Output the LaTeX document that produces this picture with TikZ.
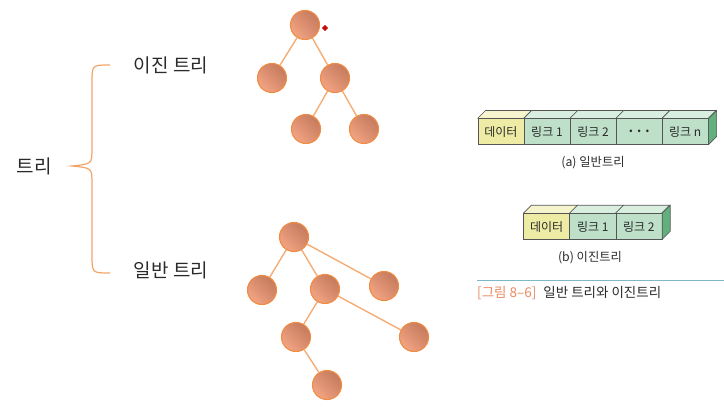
\documentclass[tikz,border=0pt]{standalone}
\usepackage{fontspec}
\setmainfont{Noto Sans CJK KR}
\usetikzlibrary{shapes.geometric}
\definecolor{txt}{HTML}{2A2A2A}
\definecolor{braceC}{HTML}{F2A468}
\definecolor{nodeRim}{HTML}{F08C44}
\definecolor{nodeLight}{HTML}{F2A482}
\definecolor{nodeDark}{HTML}{C57A5E}
\definecolor{edgeC}{HTML}{F5AC74}
\definecolor{dataF}{HTML}{EEEBA4}
\definecolor{dataT}{HTML}{F6F4CC}
\definecolor{linkF}{HTML}{BEE0C9}
\definecolor{linkT}{HTML}{D8EEDF}
\definecolor{sideC}{HTML}{62B07E}
\definecolor{boxLine}{HTML}{555555}
\definecolor{ruleC}{HTML}{7DB9C9}
\definecolor{capO}{HTML}{EA8A62}
\definecolor{mark}{HTML}{C01010}
\tikzset{
  tnode/.style={circle, minimum size=29pt, inner sep=0pt, draw=nodeRim, line width=1.1pt,
    top color=nodeDark, bottom color=nodeLight, shading angle=-45},
  tedge/.style={draw=edgeC, line width=1.4pt},
  big/.style={font=\fontsize{19}{22}\selectfont, text=txt},
  cell/.style={rectangle, draw=boxLine, line width=0.6pt, minimum width=46.1pt, minimum height=26pt,
    inner sep=0pt, anchor=north west, font=\fontsize{12}{14}\selectfont, text=txt},
  datacell/.style={cell, fill=dataF},
  linkcell/.style={cell, fill=linkF},
  topface/.style={draw=boxLine, line width=0.6pt},
  small/.style={font=\fontsize{12.3}{14}\selectfont, text=txt},
}
\begin{document}
\begin{tikzpicture}[x=1pt, y=-1pt]
\useasboundingbox (0,0) rectangle (724,417);

% classification labels and brace
\node[big] (tree) at (34,166) {트리};
\node[big] (bin) at (171,65) {이진 트리};
\node[big] (gen) at (171,270) {일반 트리};
\coordinate (bTop) at (110,65);
\coordinate (bTip) at (72,166);
\coordinate (bBot) at (110,273);
\draw[braceC, line width=1.2pt]
  (bTop) .. controls (92,65) .. (92,83) -- (92,148)
  .. controls (92,164) .. (bTip)
  .. controls (92,168) .. (92,184) -- (92,255)
  .. controls (92,273) .. (bBot);

% binary tree
\node[tnode] (b0) at (305,25) {};
\node[tnode] (b1) at (272,78) {};
\node[tnode] (b2) at (335,78) {};
\node[tnode] (b3) at (306,129) {};
\node[tnode] (b4) at (364,129) {};
\draw[tedge] (b0) -- (b1);
\draw[tedge] (b0) -- (b2);
\draw[tedge] (b2) -- (b3);
\draw[tedge] (b2) -- (b4);
\node[diamond, fill=mark, minimum size=6.5pt, inner sep=0pt] (sel) at (325,28) {};

% general tree
\node[tnode] (g0) at (294,237) {};
\node[tnode] (g1) at (262,290) {};
\node[tnode] (g2) at (325,289) {};
\node[tnode] (g3) at (384,286) {};
\node[tnode] (g4) at (296,337) {};
\node[tnode] (g5) at (414,337) {};
\node[tnode] (g6) at (327,385) {};
\draw[tedge] (g0) -- (g1);
\draw[tedge] (g0) -- (g2);
\draw[tedge] (g0) -- (g3);
\draw[tedge] (g2) -- (g4);
\draw[tedge] (g2) -- (g5);
\draw[tedge] (g4) -- (g6);

% node layout of a general tree: data + n links
\def\dep{8}
\foreach \i/\x in {0/477.5,1/523.6,2/569.7,3/615.8,4/661.9}{
  \ifnum\i=0
    \fill[dataT] (\x,118.5) -- ++(\dep,-\dep) -- ++(46.1,0) -- ++(-\dep,\dep) -- cycle;
  \else
    \fill[linkT] (\x,118.5) -- ++(\dep,-\dep) -- ++(46.1,0) -- ++(-\dep,\dep) -- cycle;
  \fi
  \draw[topface] (\x,118.5) -- ++(\dep,-\dep) -- ++(46.1,0) -- ++(-\dep,\dep);
}
\node[datacell] (a0) at (477.5,118.5) {데이터};
\node[linkcell] (a1) at (523.6,118.5) {링크 1};
\node[linkcell] (a2) at (569.7,118.5) {링크 2};
\node[linkcell] (a3) at (615.8,118.5) {\textbf{.\hspace{4pt}.\hspace{4pt}.}};
\node[linkcell] (a4) at (661.9,118.5) {링크 n};
\filldraw[fill=sideC, draw=boxLine, line width=0.6pt]
  (a4.north east) -- ++(\dep,-\dep) -- ++(0,26) -- ++(-\dep,\dep) -- cycle;
\node[small] (capa) at (593,163) {(a) 일반트리};

% node layout of a binary tree: data + 2 links
\foreach \i/\x in {0/523.3,1/569.4,2/615.5}{
  \ifnum\i=0
    \fill[dataT] (\x,213.3) -- ++(\dep,-\dep) -- ++(46.1,0) -- ++(-\dep,\dep) -- cycle;
  \else
    \fill[linkT] (\x,213.3) -- ++(\dep,-\dep) -- ++(46.1,0) -- ++(-\dep,\dep) -- cycle;
  \fi
  \draw[topface] (\x,213.3) -- ++(\dep,-\dep) -- ++(46.1,0) -- ++(-\dep,\dep);
}
\node[datacell] (c0) at (523.3,213.3) {데이터};
\node[linkcell] (c1) at (569.4,213.3) {링크 1};
\node[linkcell] (c2) at (615.5,213.3) {링크 2};
\filldraw[fill=sideC, draw=boxLine, line width=0.6pt]
  (c2.north east) -- ++(\dep,-\dep) -- ++(0,26) -- ++(-\dep,\dep) -- cycle;
\node[small] (capb) at (590,258) {(b) 이진트리};

% figure caption
\coordinate (ruleL) at (477,280.5);
\coordinate (ruleR) at (724,280.5);
\draw[ruleC, line width=0.8pt] (ruleL) -- (ruleR);
\node[anchor=west, font=\fontsize{13.5}{15}\selectfont, inner sep=0pt] (fig) at (477,293.5)
  {\textcolor{capO}{[그림 8–6]}\hspace{7pt}\textcolor{txt}{일반 트리와 이진트리}};
\end{tikzpicture}
\end{document}
